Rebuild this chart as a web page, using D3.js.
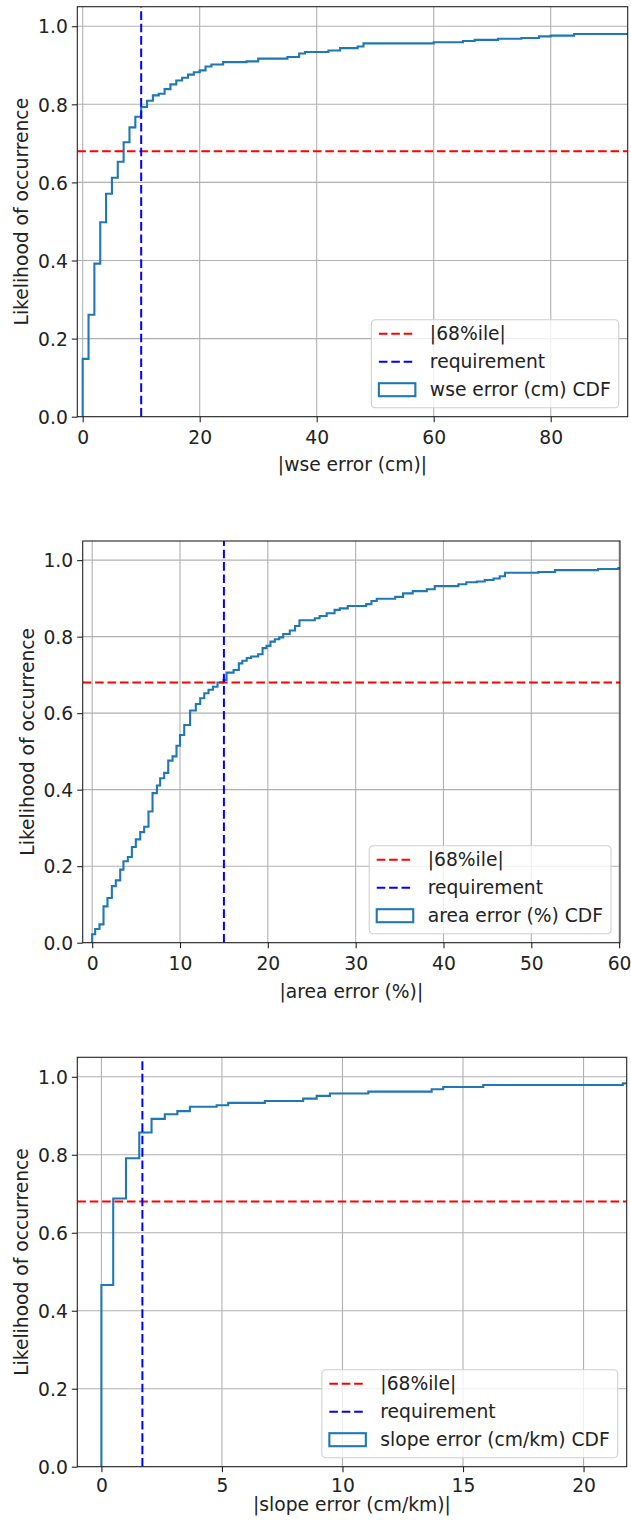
<!DOCTYPE html>
<html>
<head>
<meta charset="utf-8">
<script src="https://cdn.jsdelivr.net/npm/d3@7"></script>
<style>
  html, body { margin: 0; padding: 0; background: #ffffff; }
  svg { display: block; }
  text { font-family: "DejaVu Sans", sans-serif; fill: #222; }
</style>
</head>
<body>
<svg id="chart" width="631" height="1523"></svg>
<script>
// ---------------- DATA ----------------
const yTicks = [0.0, 0.2, 0.4, 0.6, 0.8, 1.0];
const pct68 = 0.68;

// wse error (cm) CDF : step positions and cumulative level after each step
const wseX = [0, 1, 2, 3, 4, 5, 6, 7, 8, 9, 10, 11, 12, 13, 14, 15, 16, 17, 18, 19, 20, 21, 22, 24, 28, 30, 35, 37, 38, 42, 44, 47, 48, 60, 65, 67, 71, 75, 78, 80, 84];
const wseY = [0.148, 0.261, 0.392, 0.498, 0.571, 0.612, 0.653, 0.703, 0.741, 0.768, 0.793, 0.809, 0.823, 0.827, 0.839, 0.851, 0.861, 0.868, 0.876, 0.882, 0.887, 0.897, 0.902, 0.908, 0.910, 0.917, 0.921, 0.930, 0.934, 0.938, 0.944, 0.948, 0.956, 0.959, 0.962, 0.965, 0.968, 0.970, 0.974, 0.976, 0.980];
const wseTicks = [0, 20, 40, 60, 80];
const wseRequirement = 10;

// area error (%) CDF
const areaX = [0, 0.34, 0.83, 1.29, 1.74, 2.24, 2.69, 3.19, 3.56, 4.06, 4.52, 4.97, 5.47, 5.92, 6.41, 6.87, 7.37, 7.74, 8.2, 8.66, 9.15, 9.6, 10.0, 10.48, 11.15, 11.8, 12.3, 12.76, 13.25, 13.75, 14.27, 14.95, 15.3, 16.1, 16.7, 17.1, 17.6, 18.1, 18.9, 19.4, 19.85, 20.3, 20.8, 21.3, 21.75, 22.5, 23.1, 23.6, 25.35, 25.9, 26.7, 27.6, 28.2, 29.1, 31.2, 31.8, 32.4, 34.5, 35.4, 36.5, 38.1, 39.0, 41.7, 42.6, 43.8, 44.7, 45.7, 46.4, 47.0, 50.8, 52.7, 57.6, 59.9];
const areaY = [0.022, 0.036, 0.048, 0.095, 0.117, 0.148, 0.163, 0.191, 0.213, 0.224, 0.250, 0.270, 0.289, 0.303, 0.343, 0.391, 0.411, 0.430, 0.444, 0.476, 0.487, 0.515, 0.543, 0.569, 0.607, 0.624, 0.639, 0.652, 0.661, 0.669, 0.680, 0.687, 0.706, 0.713, 0.730, 0.737, 0.744, 0.748, 0.754, 0.770, 0.776, 0.787, 0.793, 0.798, 0.807, 0.816, 0.828, 0.843, 0.848, 0.854, 0.861, 0.870, 0.874, 0.880, 0.885, 0.893, 0.899, 0.904, 0.913, 0.919, 0.924, 0.932, 0.937, 0.942, 0.944, 0.948, 0.952, 0.958, 0.967, 0.969, 0.974, 0.977, 0.979];
const areaTicks = [0, 10, 20, 30, 40, 50, 60];
const areaRequirement = 15;

// slope error (cm/km) CDF
const slopeX = [0, 0.49, 1.02, 1.57, 2.08, 2.63, 3.15, 3.67, 4.78, 5.26, 6.78, 8.37, 8.93, 9.48, 11.07, 13.7, 14.18, 15.84, 21.63];
const slopeY = [0.466, 0.688, 0.791, 0.857, 0.892, 0.904, 0.912, 0.923, 0.927, 0.933, 0.938, 0.944, 0.951, 0.957, 0.962, 0.968, 0.974, 0.979, 0.983];
const slopeTicks = [0, 5, 10, 15, 20];
const slopeRequirement = 1.7;

const yLabel = "Likelihood of occurrence";
const legendLabels68 = "|68%ile|";
const legendLabelReq = "requirement";

// ---------------- LAYOUT ----------------
const FS = 18.7;
const panels = [
  { xs: wseX, ys: wseY, ticks: wseTicks, req: wseRequirement, xDomain: [-0.92, 93.16],
    xLabel: "|wse error (cm)|", cdfLabel: "wse error (cm) CDF",
    left: 77.3, right: 627.7, top: 6.7, bottom: 416.7, tickOff: 27, labelOff: 54 },
  { xs: areaX, ys: areaY, ticks: areaTicks, req: areaRequirement, xDomain: [-1.08, 60.1],
    xLabel: "|area error (%)|", cdfLabel: "area error (%) CDF",
    left: 82.7, right: 620, top: 541, bottom: 942.7, tickOff: 27, labelOff: 55 },
  { xs: slopeX, ys: slopeY, ticks: slopeTicks, req: slopeRequirement, xDomain: [-1.0, 21.79],
    xLabel: "|slope error (cm/km)|", cdfLabel: "slope error (cm/km) CDF",
    left: 77.3, right: 626.7, top: 1057.3, bottom: 1466.7, tickOff: 25, labelOff: 44.5 }
];

const svg = d3.select("#chart");
const CDF_COLOR = "#1f77b4";
const DASH = "8.6,3.8";

panels.forEach((p, pi) => {
  const x = d3.scaleLinear().domain(p.xDomain).range([p.left, p.right]);
  const y = d3.scaleLinear().domain([0, 1.05]).range([p.bottom, p.top]);
  const g = svg.append("g");

  const clipId = "clip" + pi;
  svg.append("clipPath").attr("id", clipId).append("rect")
    .attr("x", p.left).attr("y", p.top)
    .attr("width", p.right - p.left).attr("height", p.bottom - p.top);

  // grid
  const grid = g.append("g").attr("clip-path", `url(#${clipId})`);
  grid.selectAll("line.gx").data(p.ticks).enter().append("line")
    .attr("x1", d => x(d)).attr("x2", d => x(d))
    .attr("y1", p.top).attr("y2", p.bottom)
    .attr("stroke", "#b0b0b0").attr("stroke-width", 1.1);
  grid.selectAll("line.gy").data(yTicks).enter().append("line")
    .attr("y1", d => y(d)).attr("y2", d => y(d))
    .attr("x1", p.left).attr("x2", p.right)
    .attr("stroke", "#b0b0b0").attr("stroke-width", 1.1);

  // CDF step curve
  const pts = [[p.xs[0], 0]].concat(p.xs.map((v, i) => [v, p.ys[i]]));
  pts.push([p.xDomain[1] + 5, p.ys[p.ys.length - 1]]);
  const line = d3.line().x(d => x(d[0])).y(d => y(d[1])).curve(d3.curveStepAfter);
  const plot = g.append("g").attr("clip-path", `url(#${clipId})`);
  plot.append("path").attr("d", line(pts))
    .attr("fill", "none").attr("stroke", CDF_COLOR).attr("stroke-width", 2.1)
    .attr("stroke-linejoin", "miter");

  // 68%ile line
  plot.append("line")
    .attr("x1", p.left).attr("x2", p.right)
    .attr("y1", y(pct68)).attr("y2", y(pct68))
    .attr("stroke", "#ff0000").attr("stroke-width", 2).attr("stroke-dasharray", DASH);
  // requirement line
  plot.append("line")
    .attr("x1", x(p.req)).attr("x2", x(p.req))
    .attr("y1", p.bottom).attr("y2", p.top)
    .attr("stroke", "#0000ff").attr("stroke-width", 2).attr("stroke-dasharray", DASH);

  // axes
  const xAxis = d3.axisBottom(x).tickValues(p.ticks).tickFormat(d3.format("d"))
    .tickSizeInner(5.5).tickSizeOuter(0).tickPadding(4);
  const xg = g.append("g").attr("transform", `translate(0,${p.bottom})`).call(xAxis);
  const yAxis = d3.axisLeft(y).tickValues(yTicks).tickFormat(d3.format(".1f"))
    .tickSizeInner(5.5).tickSizeOuter(0).tickPadding(4);
  const yg = g.append("g").attr("transform", `translate(${p.left},0)`).call(yAxis);
  [xg, yg].forEach(a => {
    a.select(".domain").remove();
    a.selectAll(".tick line").attr("stroke", "#222").attr("stroke-width", 1.1);
    a.selectAll(".tick text").attr("font-size", FS).attr("fill", "#222")
      .attr("font-family", "DejaVu Sans, sans-serif");
  });
  xg.selectAll(".tick text").attr("dy", null).attr("y", p.tickOff).attr("dominant-baseline", "alphabetic");
  yg.selectAll(".tick text").attr("dy", "0.36em").attr("x", -9.5);

  // spines
  g.append("rect").attr("x", p.left).attr("y", p.top)
    .attr("width", p.right - p.left).attr("height", p.bottom - p.top)
    .attr("fill", "none").attr("stroke", "#222").attr("stroke-width", 1.1);

  // axis labels
  g.append("text").attr("x", (p.left + p.right) / 2).attr("y", p.bottom + p.labelOff)
    .attr("text-anchor", "middle").attr("font-size", FS).text(p.xLabel);
  g.append("text")
    .attr("transform", `translate(${p.left - 49},${(p.top + p.bottom) / 2}) rotate(-90)`)
    .attr("text-anchor", "middle").attr("font-size", FS).text(yLabel);

  // legend
  const lg = g.append("g");
  const box = lg.append("rect");
  const entries = [
    { type: "line", color: "#ff0000", label: legendLabels68 },
    { type: "line", color: "#0000ff", label: legendLabelReq },
    { type: "patch", color: CDF_COLOR, label: p.cdfLabel }
  ];
  const rowH = 28, padX = 7.5, handleW = 36.5, gap = 14.5, boxH = 88;
  const texts = [];
  entries.forEach((e, i) => {
    const t = lg.append("text").attr("font-size", FS).attr("dy", "0.35em")
      .attr("y", 14 + rowH * i).text(e.label);
    texts.push(t);
  });
  const maxW = d3.max(texts, t => t.node().getComputedTextLength());
  const boxW = padX + handleW + gap + maxW + 8;
  const bx = p.right - 9 - boxW, by = p.bottom - 9 - boxH;
  lg.attr("transform", `translate(${bx},${by})`);
  box.attr("x", 0).attr("y", 0).attr("width", boxW).attr("height", boxH)
    .attr("rx", 4).attr("ry", 4)
    .attr("fill", "#ffffff").attr("fill-opacity", 0.8)
    .attr("stroke", "#d0d0d0").attr("stroke-width", 1.1);
  texts.forEach(t => t.attr("x", padX + handleW + gap));
  entries.forEach((e, i) => {
    const cy = 14 + rowH * i;
    if (e.type === "line") {
      lg.append("line").attr("x1", padX).attr("x2", padX + handleW)
        .attr("y1", cy).attr("y2", cy)
        .attr("stroke", e.color).attr("stroke-width", 2).attr("stroke-dasharray", DASH);
    } else {
      lg.append("rect").attr("x", padX).attr("y", cy - 6.5)
        .attr("width", handleW).attr("height", 13)
        .attr("fill", "none").attr("stroke", e.color).attr("stroke-width", 2.1);
    }
  });
});
</script>
</body>
</html>
